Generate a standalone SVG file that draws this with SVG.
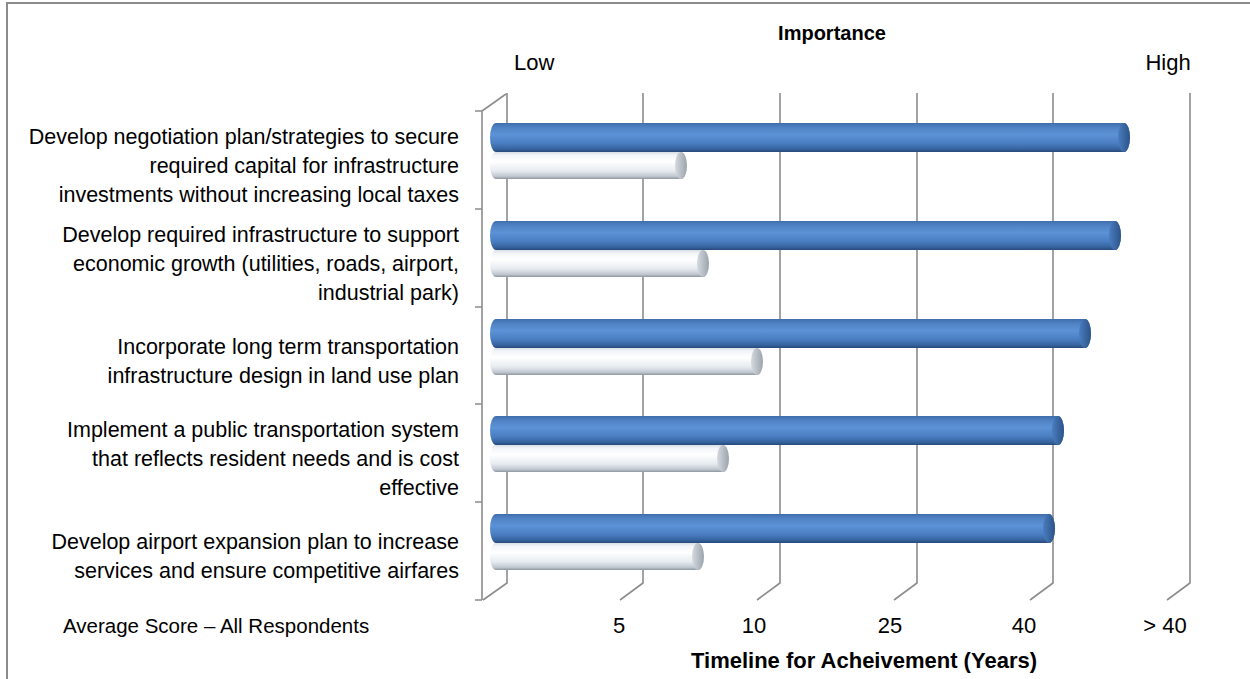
<svg xmlns="http://www.w3.org/2000/svg" width="1250" height="679" viewBox="0 0 1250 679">
<style>
.lbl{font-family:"Liberation Sans",Arial,sans-serif;font-size:21.5px;fill:#000;text-anchor:end}
.ax{font-family:"Liberation Sans",Arial,sans-serif;font-size:22px;fill:#000;text-anchor:middle}
.ttl{font-family:"Liberation Sans",Arial,sans-serif;font-weight:bold;fill:#000;text-anchor:middle}
.grid{stroke:#8c8c8c;stroke-width:1.6;fill:none}
.blue{fill:url(#blueGrad)}
.white{fill:url(#whiteGrad)}
.bcap{fill:url(#blueCap)}
.wcap{fill:url(#whiteCap)}
</style>
<defs>
<linearGradient id="blueGrad" x1="0" y1="0" x2="0" y2="1">
<stop offset="0" stop-color="#3F6DAA"/>
<stop offset="0.15" stop-color="#4F82C4"/>
<stop offset="0.4" stop-color="#5C93D6"/>
<stop offset="0.7" stop-color="#4A7EC2"/>
<stop offset="0.9" stop-color="#36639E"/>
<stop offset="1" stop-color="#26497A"/>
</linearGradient>
<linearGradient id="whiteGrad" x1="0" y1="0" x2="0" y2="1">
<stop offset="0" stop-color="#D8DEE6"/>
<stop offset="0.12" stop-color="#F2F5F9"/>
<stop offset="0.35" stop-color="#FFFFFF"/>
<stop offset="0.7" stop-color="#E6EBF0"/>
<stop offset="0.9" stop-color="#C0C7CF"/>
<stop offset="1" stop-color="#8E969F"/>
</linearGradient>
<linearGradient id="blueCap" x1="0" y1="0" x2="1" y2="0">
<stop offset="0" stop-color="#4A7DBF"/>
<stop offset="1" stop-color="#2C5388"/>
</linearGradient>
<linearGradient id="whiteCap" x1="0" y1="0" x2="1" y2="0">
<stop offset="0" stop-color="#D5DAE0"/>
<stop offset="1" stop-color="#9CA3AB"/>
</linearGradient>
</defs>
<rect width="1250" height="679" fill="#fff"/>
<path d="M7,679 V3 H1250" stroke="#8c8c8c" stroke-width="2" fill="none"/>

<g id="connectors">
<path class="grid" d="M482,111 L506,94 M482,111 V600 M475,111 H482 M475,209 H482 M475,307 H482 M475,404 H482 M475,502 H482 M475,600 H482"/>
<path class="grid" d="M507,93 V583 L483,600 M643,93 V583 L620,600 M780,93 V583 L757,600 M917,93 V583 L894,600 M1053,93 V583 L1030,600 M1190,93 V583 L1167,600"/>
</g>

<g id="cat1">
<rect class="white" x="490" y="152" width="197" height="27" rx="6" ry="13.5"/>
<ellipse class="wcap" cx="681" cy="165.5" rx="6" ry="13.5"/>
<rect class="blue" x="490" y="123" width="640" height="29" rx="6" ry="14.5"/>
<ellipse class="bcap" cx="1124" cy="137.5" rx="6" ry="14.5"/>
<text class="lbl" x="459" y="144">Develop negotiation plan/strategies to secure</text>
<text class="lbl" x="459" y="173">required capital for infrastructure</text>
<text class="lbl" x="459" y="202">investments without increasing local taxes</text>
</g>

<g id="cat2">
<rect class="white" x="490" y="250" width="219" height="27" rx="6" ry="13.5"/>
<ellipse class="wcap" cx="703" cy="263.5" rx="6" ry="13.5"/>
<rect class="blue" x="490" y="221" width="631" height="29" rx="6" ry="14.5"/>
<ellipse class="bcap" cx="1115" cy="235.5" rx="6" ry="14.5"/>
<text class="lbl" x="459" y="242">Develop required infrastructure to support</text>
<text class="lbl" x="459" y="271">economic growth (utilities, roads, airport,</text>
<text class="lbl" x="459" y="300">industrial park)</text>
</g>

<g id="cat3">
<rect class="white" x="490" y="348" width="273" height="27" rx="6" ry="13.5"/>
<ellipse class="wcap" cx="757" cy="361.5" rx="6" ry="13.5"/>
<rect class="blue" x="490" y="319" width="601" height="29" rx="6" ry="14.5"/>
<ellipse class="bcap" cx="1085" cy="333.5" rx="6" ry="14.5"/>
<text class="lbl" x="459" y="354">Incorporate long term transportation</text>
<text class="lbl" x="459" y="383">infrastructure design in land use plan</text>
</g>

<g id="cat4">
<rect class="white" x="490" y="445" width="239" height="27" rx="6" ry="13.5"/>
<ellipse class="wcap" cx="723" cy="458.5" rx="6" ry="13.5"/>
<rect class="blue" x="490" y="416" width="574" height="29" rx="6" ry="14.5"/>
<ellipse class="bcap" cx="1058" cy="430.5" rx="6" ry="14.5"/>
<text class="lbl" x="459" y="437">Implement a public transportation system</text>
<text class="lbl" x="459" y="466">that reflects resident needs and is cost</text>
<text class="lbl" x="459" y="495">effective</text>
</g>

<g id="cat5">
<rect class="white" x="490" y="543" width="214" height="27" rx="6" ry="13.5"/>
<ellipse class="wcap" cx="698" cy="556.5" rx="6" ry="13.5"/>
<rect class="blue" x="490" y="514" width="565" height="29" rx="6" ry="14.5"/>
<ellipse class="bcap" cx="1049" cy="528.5" rx="6" ry="14.5"/>
<text class="lbl" x="459" y="549">Develop airport expansion plan to increase</text>
<text class="lbl" x="459" y="578">services and ensure competitive airfares</text>
</g>

<g id="axes">
<text class="ttl" x="832" y="40" font-size="20">Importance</text>
<text class="ax" x="514" y="70" style="text-anchor:start">Low</text>
<text class="ax" x="1168" y="70">High</text>
<text class="ax" x="63" y="633" style="text-anchor:start;font-size:20.5px">Average Score – All Respondents</text>
<text class="ax" x="619" y="633">5</text>
<text class="ax" x="754" y="633">10</text>
<text class="ax" x="890" y="633">25</text>
<text class="ax" x="1024" y="633">40</text>
<text class="ax" x="1165" y="633">&gt; 40</text>
<text class="ttl" x="864" y="668" font-size="22">Timeline for Acheivement (Years)</text>
</g>
</svg>
